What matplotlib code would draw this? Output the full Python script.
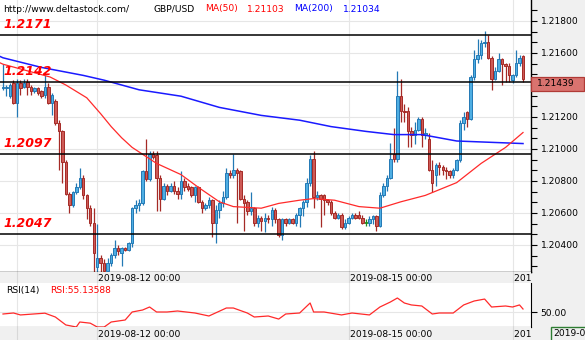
import numpy as np
import matplotlib.pyplot as plt
from matplotlib.ticker import MultipleLocator, FuncFormatter
from matplotlib.patches import Rectangle
from matplotlib import transforms

plt.rcParams['font.family'] = 'DejaVu Sans'

# GBP/USD H1 candles (open, high, low, close)
opens = [1.2138, 1.2138, 1.2133, 1.2141, 1.2129, 1.2141, 1.2139, 1.2142, 1.2139, 1.2136,
         1.2138, 1.2136, 1.2134, 1.2139, 1.2129, 1.2130, 1.2116, 1.2111, 1.2092, 1.2072,
         1.2065, 1.2073, 1.2076, 1.2082, 1.2071, 1.2063, 1.2054, 1.2026, 1.2032, 1.2029,
         1.2024, 1.2029, 1.2034, 1.2038, 1.2035, 1.2038, 1.2037, 1.2041, 1.2063, 1.2065,
         1.2066, 1.2086, 1.2081, 1.2097, 1.2096, 1.2082, 1.2069, 1.2077, 1.2074, 1.2077,
         1.2074, 1.2072, 1.2080, 1.2077, 1.2076, 1.2071, 1.2076, 1.2067, 1.2063, 1.2065,
         1.2068, 1.2054, 1.2062, 1.2066, 1.2070, 1.2085, 1.2084, 1.2087, 1.2086, 1.2069,
         1.2067, 1.2061, 1.2063, 1.2054, 1.2057, 1.2055, 1.2057, 1.2056, 1.2062, 1.2056,
         1.2046, 1.2056, 1.2054, 1.2056, 1.2054, 1.2059, 1.2063, 1.2067, 1.2079, 1.2094,
         1.2070, 1.2071, 1.2071, 1.2068, 1.2067, 1.2060, 1.2057, 1.2059, 1.2051, 1.2054,
         1.2057, 1.2059, 1.2059, 1.2057, 1.2054, 1.2054, 1.2056, 1.2058, 1.2052, 1.2071,
         1.2077, 1.2082, 1.2097, 1.2094, 1.2133, 1.2124, 1.2124, 1.2111, 1.2109, 1.2112,
         1.2119, 1.2109, 1.2106, 1.2087, 1.2084, 1.2090, 1.2089, 1.2087, 1.2086, 1.2084,
         1.2087, 1.2093, 1.2116, 1.2123, 1.2119, 1.2145, 1.2156, 1.2159, 1.2166, 1.2167,
         1.2157, 1.2144, 1.2149, 1.2156, 1.2153, 1.2152, 1.2143, 1.2146, 1.2154, 1.2158]
highs = [1.2153, 1.2140, 1.2141, 1.2143, 1.2144, 1.2143, 1.2144, 1.2144, 1.2140, 1.2139,
         1.2139, 1.2137, 1.2146, 1.2141, 1.2135, 1.2131, 1.2118, 1.2112, 1.2093, 1.2073,
         1.2074, 1.2079, 1.2088, 1.2084, 1.2072, 1.2065, 1.2063, 1.2053, 1.2034, 1.2031,
         1.2032, 1.2035, 1.2043, 1.2040, 1.2039, 1.2039, 1.2042, 1.2064, 1.2068, 1.2069,
         1.2087, 1.2106, 1.2099, 1.2099, 1.2099, 1.2084, 1.2079, 1.2078, 1.2079, 1.2080,
         1.2076, 1.2086, 1.2082, 1.2079, 1.2077, 1.2077, 1.2077, 1.2068, 1.2066, 1.2070,
         1.2069, 1.2065, 1.2068, 1.2074, 1.2088, 1.2087, 1.2097, 1.2088, 1.2087, 1.2071,
         1.2068, 1.2073, 1.2064, 1.2059, 1.2058, 1.2060, 1.2059, 1.2064, 1.2063, 1.2057,
         1.2057, 1.2057, 1.2057, 1.2057, 1.2060, 1.2064, 1.2068, 1.2082, 1.2096, 1.2099,
         1.2074, 1.2072, 1.2072, 1.2069, 1.2068, 1.2061, 1.2060, 1.2060, 1.2056, 1.2058,
         1.2060, 1.2060, 1.2061, 1.2059, 1.2056, 1.2058, 1.2059, 1.2059, 1.2073, 1.2079,
         1.2084, 1.2104, 1.2113, 1.2149, 1.2144, 1.2128, 1.2126, 1.2114, 1.2117, 1.2120,
         1.2120, 1.2113, 1.2110, 1.2093, 1.2091, 1.2092, 1.2090, 1.2089, 1.2087, 1.2088,
         1.2094, 1.2118, 1.2123, 1.2124, 1.2146, 1.2162, 1.2169, 1.2168, 1.2174, 1.2171,
         1.2158, 1.2151, 1.2160, 1.2157, 1.2154, 1.2154, 1.2147, 1.2162, 1.2159, 1.2159]
lows = [1.2137, 1.2133, 1.2132, 1.2128, 1.2120, 1.2134, 1.2138, 1.2134, 1.2134, 1.2135,
        1.2134, 1.2132, 1.2132, 1.2128, 1.2121, 1.2115, 1.2087, 1.2079, 1.2071, 1.2060,
        1.2064, 1.2072, 1.2075, 1.2069, 1.2056, 1.2052, 1.2023, 1.2023, 1.2023, 1.2021,
        1.2021, 1.2027, 1.2032, 1.2034, 1.2027, 1.2036, 1.2036, 1.2039, 1.2060, 1.2061,
        1.2065, 1.2080, 1.2080, 1.2094, 1.2061, 1.2061, 1.2068, 1.2071, 1.2073, 1.2072,
        1.2069, 1.2069, 1.2074, 1.2074, 1.2070, 1.2067, 1.2066, 1.2060, 1.2062, 1.2063,
        1.2045, 1.2041, 1.2057, 1.2064, 1.2069, 1.2082, 1.2082, 1.2054, 1.2068, 1.2049,
        1.2059, 1.2059, 1.2052, 1.2051, 1.2049, 1.2048, 1.2054, 1.2052, 1.2054, 1.2045,
        1.2043, 1.2052, 1.2053, 1.2053, 1.2052, 1.2051, 1.2058, 1.2064, 1.2077, 1.2063,
        1.2068, 1.2051, 1.2059, 1.2065, 1.2059, 1.2056, 1.2056, 1.2050, 1.2050, 1.2053,
        1.2056, 1.2056, 1.2056, 1.2053, 1.2052, 1.2052, 1.2053, 1.2049, 1.2051, 1.2070,
        1.2074, 1.2081, 1.2092, 1.2092, 1.2117, 1.2117, 1.2101, 1.2101, 1.2103, 1.2111,
        1.2101, 1.2106, 1.2086, 1.2073, 1.2077, 1.2084, 1.2084, 1.2081, 1.2082, 1.2082,
        1.2086, 1.2092, 1.2112, 1.2114, 1.2118, 1.2143, 1.2154, 1.2156, 1.2164, 1.2156,
        1.2137, 1.2143, 1.2148, 1.2140, 1.2142, 1.2142, 1.2141, 1.2145, 1.2152, 1.2142]
closes = [1.2139, 1.2139, 1.2140, 1.2129, 1.2141, 1.2138, 1.2141, 1.2139, 1.2136, 1.2138,
          1.2135, 1.2133, 1.2139, 1.2129, 1.2134, 1.2116, 1.2111, 1.2092, 1.2072, 1.2065,
          1.2073, 1.2076, 1.2082, 1.2071, 1.2063, 1.2054, 1.2035, 1.2032, 1.2029, 1.2024,
          1.2029, 1.2034, 1.2038, 1.2036, 1.2038, 1.2037, 1.2041, 1.2063, 1.2065, 1.2066,
          1.2086, 1.2081, 1.2097, 1.2095, 1.2082, 1.2069, 1.2077, 1.2074, 1.2077, 1.2074,
          1.2072, 1.2080, 1.2076, 1.2075, 1.2071, 1.2076, 1.2067, 1.2063, 1.2065, 1.2068,
          1.2054, 1.2062, 1.2066, 1.2070, 1.2085, 1.2084, 1.2087, 1.2085, 1.2069, 1.2066,
          1.2061, 1.2063, 1.2054, 1.2057, 1.2055, 1.2057, 1.2056, 1.2062, 1.2056, 1.2046,
          1.2056, 1.2054, 1.2056, 1.2054, 1.2059, 1.2063, 1.2067, 1.2079, 1.2094, 1.2070,
          1.2071, 1.2069, 1.2068, 1.2067, 1.2060, 1.2057, 1.2059, 1.2051, 1.2054, 1.2057,
          1.2059, 1.2057, 1.2057, 1.2054, 1.2054, 1.2056, 1.2058, 1.2052, 1.2071, 1.2077,
          1.2082, 1.2094, 1.2094, 1.2133, 1.2124, 1.2123, 1.2111, 1.2109, 1.2112, 1.2119,
          1.2109, 1.2110, 1.2087, 1.2079, 1.2090, 1.2089, 1.2087, 1.2086, 1.2084, 1.2087,
          1.2093, 1.2116, 1.2120, 1.2119, 1.2145, 1.2156, 1.2159, 1.2166, 1.2167, 1.2157,
          1.2144, 1.2149, 1.2156, 1.2153, 1.2152, 1.2146, 1.2146, 1.2154, 1.2157, 1.21439]

# moving averages (bar index, value)
ma50_idx = [-1, 0, 13.5, 18, 21, 24, 28, 31, 34, 37, 44, 51, 56, 62, 66, 74, 79, 85, 89,
            95, 102, 108, 114, 121, 130, 137, 144, 149]
ma50_val = [1.2154, 1.2153, 1.2145, 1.2140, 1.2136, 1.2132, 1.2122, 1.2114, 1.2107, 1.2101,
            1.2091, 1.2084, 1.2076, 1.2067, 1.2064, 1.2063, 1.2066, 1.2068, 1.2069, 1.2068,
            1.2064, 1.2063, 1.2067, 1.2071, 1.2079, 1.2091, 1.2101, 1.21103]
ma200_idx = [-1, 0, 11, 23, 29, 39, 51, 62, 74, 85, 94, 104, 112, 120, 130, 149]
ma200_val = [1.2158, 1.2157, 1.2151, 1.2146, 1.2143, 1.2137, 1.2133, 1.2126, 1.2121, 1.2118,
             1.2114, 1.2111, 1.2109, 1.2109, 1.2105, 1.21034]

# RSI(14)
rsi_idx = [0, 3, 5, 12, 15, 18, 21, 22, 25, 27, 29, 31, 35, 37, 40, 42, 44, 47, 50, 55,
           59, 64, 66, 70, 72, 76, 79, 81, 85, 88, 89, 92, 97, 100, 105, 108, 111, 113, 115, 117,
           120, 123, 125, 129, 132, 135, 138, 140, 144, 146, 148, 149]
rsi_val = [46.6, 48.3, 45, 48, 41.5, 28, 24.5, 33, 31, 24.5, 24.5, 33, 36.4, 50, 53.4, 58.5,
           50, 50, 51.7, 48.3, 43.2, 56.8, 56.8, 48.3, 41.5, 43.2, 38, 46.6, 48.3, 65.3, 50, 50,
           45, 48.3, 45, 58.5, 67, 73.8, 65.3, 62, 60.2, 46.6, 48.3, 48.3, 62, 68.7, 72, 58.5,
           60.2, 58.5, 62, 55.1]
rsi_last = 55.13588

levels = [1.2171, 1.2142, 1.2097, 1.2047]
date_grid = [4, 27, 99, 146]
date_labels = ['', '2019-08-12 00:00', '2019-08-15 00:00', '2019-08-17 00:00']
last_price = 1.21439

W, H = 585, 340
fig = plt.figure(figsize=(W / 100, H / 100), dpi=100, facecolor='#f0f0f0')


def box(x0, y0, x1, y1):
    return [x0 / W, 1 - y1 / H, (x1 - x0) / W, (y1 - y0) / H]


ax = fig.add_axes(box(0, 0, 531, 272))
band1 = fig.add_axes(box(0, 272, 531, 283))
axr = fig.add_axes(box(0, 283, 531, 327))
band2 = fig.add_axes(box(0, 327, 531, 340))

xlim = (-3 / 3.49, (531 - 3) / 3.49)
FS = 6.6
grid_c = '#e6e6e6'

# ---- main price panel
o, h, l, c = map(np.array, (opens, highs, lows, closes))
x = np.arange(len(o))
fc = np.where(c > o, '#4eaee3', np.where(c < o, '#cd5a56', '#2e9e2e'))
ec = np.where(c > o, '#2379b5', np.where(c < o, '#a52a26', '#1f8f1f'))

ax.vlines(x, l, h, colors=ec, lw=0.9, zorder=2)
ax.bar(x, np.maximum(np.abs(c - o), 0.00004), bottom=np.minimum(o, c), width=0.7,
       color=fc, edgecolor=ec, linewidth=0.7, zorder=3)

ax.plot(ma200_idx, ma200_val, color='#1a1aff', lw=1.1, zorder=4)
ax.plot(ma50_idx, ma50_val, color='#ff2a2a', lw=0.9, zorder=4)

for lv in levels:
    ax.axhline(lv, color='black', lw=1.1, zorder=5)
    ax.annotate(f'{lv:.4f}', xy=(0, lv), xycoords=('axes fraction', 'data'),
                xytext=(3, 4), textcoords='offset pixels', color='#ff0000',
                fontsize=9, fontweight='bold', style='italic', va='bottom', zorder=6)

for g in date_grid:
    ax.axvline(g, color=grid_c, lw=0.8, zorder=0)
ax.set_xlim(*xlim)
ax.set_ylim(1.21 - 123 / 16000, 1.21 + 149 / 16000)
ax.set_xticks([])
ax.yaxis.tick_right()
ax.yaxis.set_major_locator(MultipleLocator(0.002))
ax.yaxis.set_minor_locator(MultipleLocator(0.002 / 3))
# the 1.21400 label sits under the last-price box
ax.yaxis.set_major_formatter(FuncFormatter(
    lambda v, pos: '' if abs(v - 1.214) < 1e-6 else f'{v:.5f}'))
ax.tick_params(axis='y', which='both', direction='out', length=4, width=0.8, pad=3,
               labelsize=FS)
ax.grid(axis='y', which='major', color=grid_c, lw=0.8, zorder=0)
ax.set_axisbelow(True)
for s in ['left', 'top']:
    ax.spines[s].set_visible(False)
for s in ['right', 'bottom']:
    ax.spines[s].set_linewidth(1.0)

# last price marker on the axis
blend = transforms.blended_transform_factory(ax.transAxes, ax.transData)
px = 1 / 16000
ax.add_patch(Rectangle((1.0, last_price - 12 * px), 53 / 531, 14 * px, transform=blend,
                       clip_on=False, facecolor='#d9736f', edgecolor='#b03a36', lw=0.9,
                       zorder=10))
ax.text(1.0 + 6 / 531, last_price - 5 * px, f'{last_price:.5f}', transform=blend,
        fontsize=FS, va='center', ha='left', color='black', clip_on=False, zorder=11)

# header
fig.text(3 / W, 1 - 9 / H, 'http://www.deltastock.com/', fontsize=FS, va='center')
fig.text(153 / W, 1 - 9 / H, 'GBP/USD', fontsize=FS, va='center')
fig.text(205 / W, 1 - 9 / H, 'MA(50)', fontsize=FS, va='center', color='#ff0000')
fig.text(247 / W, 1 - 9 / H, f'{ma50_val[-1]:.5f}', fontsize=FS, va='center', color='#ff0000')
fig.text(294 / W, 1 - 9 / H, 'MA(200)', fontsize=FS, va='center', color='#0000ff')
fig.text(343 / W, 1 - 9 / H, f'{ma200_val[-1]:.5f}', fontsize=FS, va='center', color='#0000ff')

# date bands
for b in (band1, band2):
    b.set_facecolor('#f0f0f0')
    b.set_xlim(*xlim)
    b.set_ylim(0, 1)
    b.set_xticks([])
    b.set_yticks([])
    for s in b.spines.values():
        s.set_visible(False)
    for g, lab in zip(date_grid, date_labels):
        b.axvline(g, color='#d8d8d8', lw=0.8)
        b.text(g + 0.3, 0.45, lab, fontsize=FS, va='center', ha='left', clip_on=True)

# ---- RSI panel
axr.plot(rsi_idx, rsi_val, color='#ff2a2a', lw=0.9)
axr.axhline(50, color=grid_c, lw=0.8, zorder=0)
for g in date_grid:
    axr.axvline(g, color=grid_c, lw=0.8, zorder=0)
axr.set_xlim(*xlim)
axr.set_ylim(50 - 15 * 1.7, 50 + 29 * 1.7)
axr.set_xticks([])
axr.yaxis.tick_right()
axr.set_yticks([50])
axr.set_yticklabels(['50.00'])
axr.tick_params(axis='y', direction='out', length=4, width=0.8, pad=3, labelsize=FS)
for s in ['left', 'top']:
    axr.spines[s].set_visible(False)
axr.text(6 / 531, 0.82, 'RSI(14)', transform=axr.transAxes, fontsize=FS, va='center')
axr.text(50 / 531, 0.82, f'RSI:{rsi_last:.5f}', transform=axr.transAxes, fontsize=FS,
         va='center', color='#ff0000')

# crosshair date box (cut at the edge)
fig.patches.append(Rectangle((551 / W, -0.05), 0.2, 13 / H + 0.05, transform=fig.transFigure,
                             facecolor='#f0f0f0', edgecolor='#2e7d32', lw=1.0))
fig.text(553 / W, 6 / H, '2019-08-16', fontsize=FS, va='center')

fig.savefig('out.png', dpi=100, facecolor=fig.get_facecolor())
